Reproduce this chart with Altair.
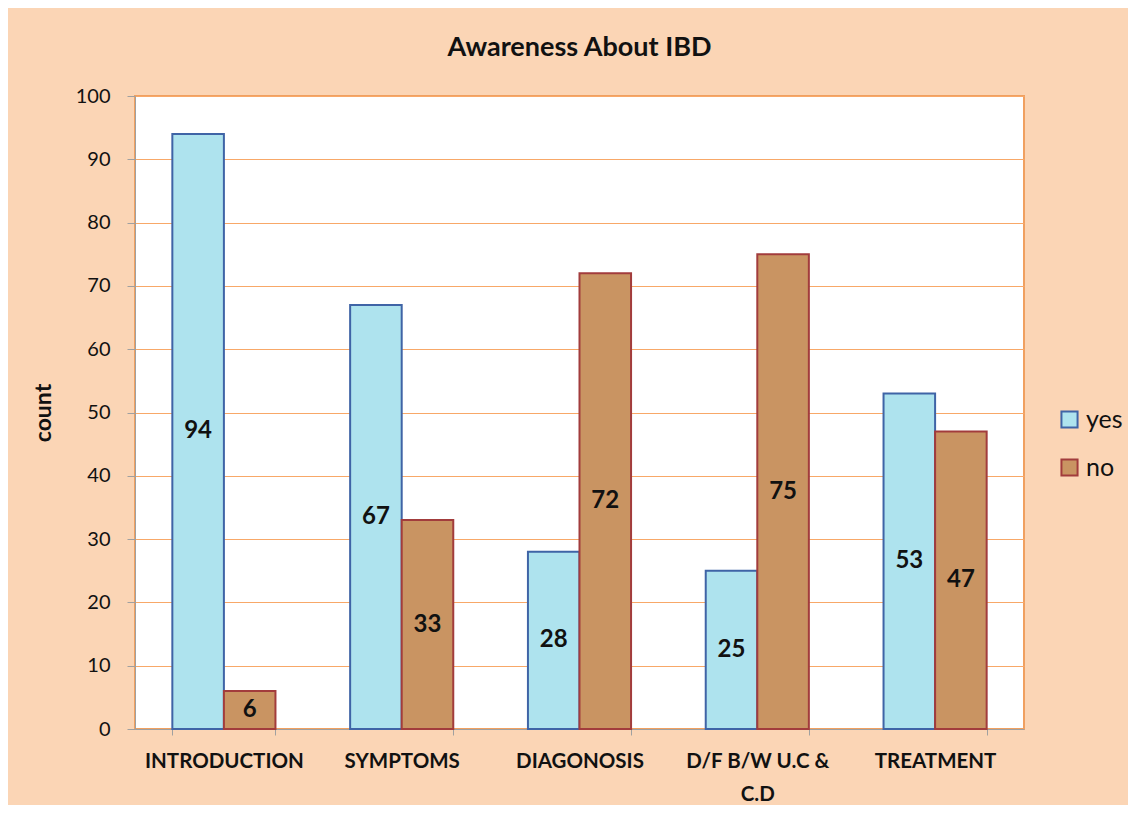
import altair as alt
import pandas as pd

categories = ["INTRODUCTION", "SYMPTOMS", "DIAGONOSIS", "D/F B/W U.C & C.D", "TREATMENT"]
yes_values = [94, 67, 28, 25, 53]
no_values = [6, 33, 72, 75, 47]
series = ["yes", "no"]
y_ticks = [0, 10, 20, 30, 40, 50, 60, 70, 80, 90, 100]

rows = []
for c, y, n in zip(categories, yes_values, no_values):
    rows.append({"category": c, "answer": "yes", "count": y})
    rows.append({"category": c, "answer": "no", "count": n})
df = pd.DataFrame(rows)

FONT = "Lato"

x_enc = alt.X(
    "category:N",
    sort=categories,
    title=None,
    scale=alt.Scale(paddingInner=0.42, paddingOuter=0.21),
    axis=alt.Axis(
        labelAngle=0,
        labelFont=FONT,
        labelFontSize=20.5,
        labelFontWeight="bold",
        labelColor="#111111",
        labelPadding=16,
        labelLimit=300,
        tickBand="extent",
        tickColor="#A0A0A0",
        tickSize=6,
        domainColor="#A0A0A0",
        labelExpr="datum.value == 'D/F B/W U.C & C.D' ? ['D/F B/W U.C &', 'C.D'] : datum.label",
        labelLineHeight=33,
    ),
)

bars = alt.Chart(df).mark_bar(strokeWidth=2).encode(
    x=x_enc,
    xOffset=alt.XOffset("answer:N", sort=series, scale=alt.Scale(paddingInner=0, paddingOuter=0)),
    y=alt.Y(
        "count:Q",
        title="count",
        scale=alt.Scale(domain=[0, 100], nice=False),
        axis=alt.Axis(
            values=y_ticks,
            labelFont=FONT,
            labelFontSize=20,
            labelColor="#111111",
            labelPadding=17,
            titleFont=FONT,
            titleFontSize=23,
            titleFontWeight="bold",
            titleColor="#111111",
            titlePadding=20,
            gridColor="#F8A868",
            gridWidth=1.2,
            tickColor="#A0A0A0",
            tickSize=8,
            domainColor="#A0A0A0",
        ),
    ),
    color=alt.Color(
        "answer:N",
        sort=series,
        scale=alt.Scale(domain=series, range=["#AEE3EE", "#C99462"]),
        legend=alt.Legend(
            title=None,
            orient="none",
            legendX=922,
            legendY=311,
            symbolType="square",
            symbolSize=260,
            symbolStrokeWidth=2,
            labelFont=FONT,
            labelFontSize=25,
            labelColor="#111111",
            rowPadding=22,
            labelOffset=4,
            padding=0,
        ),
    ),
    stroke=alt.Stroke(
        "answer:N",
        sort=series,
        scale=alt.Scale(domain=series, range=["#3F64A6", "#A23C3C"]),
        legend=None,
    ),
)

labels = alt.Chart(df).mark_text(
    font=FONT, fontSize=24, fontWeight="bold", color="#111111", baseline="middle"
).transform_calculate(mid="datum.count / 2").encode(
    x=alt.X("category:N", sort=categories),
    xOffset=alt.XOffset("answer:N", sort=series),
    y=alt.Y("mid:Q"),
    text=alt.Text("count:Q"),
)

chart = (
    alt.layer(bars, labels)
    .properties(
        width=889,
        height=633,
        title=alt.TitleParams(
            "Awareness About IBD",
            font=FONT,
            fontSize=27,
            fontWeight="bold",
            color="#111111",
            offset=24,
            anchor="middle",
        ),
        background="#FBD5B5",
        padding={"left": 127, "top": 88, "right": 104, "bottom": 76},
        autosize=alt.AutoSizeParams(type="none"),
    )
    .configure_view(fill="white", stroke="#F0A060", strokeWidth=2)
)

chart.save("out.html", embed_options={"renderer": "svg", "actions": False})
